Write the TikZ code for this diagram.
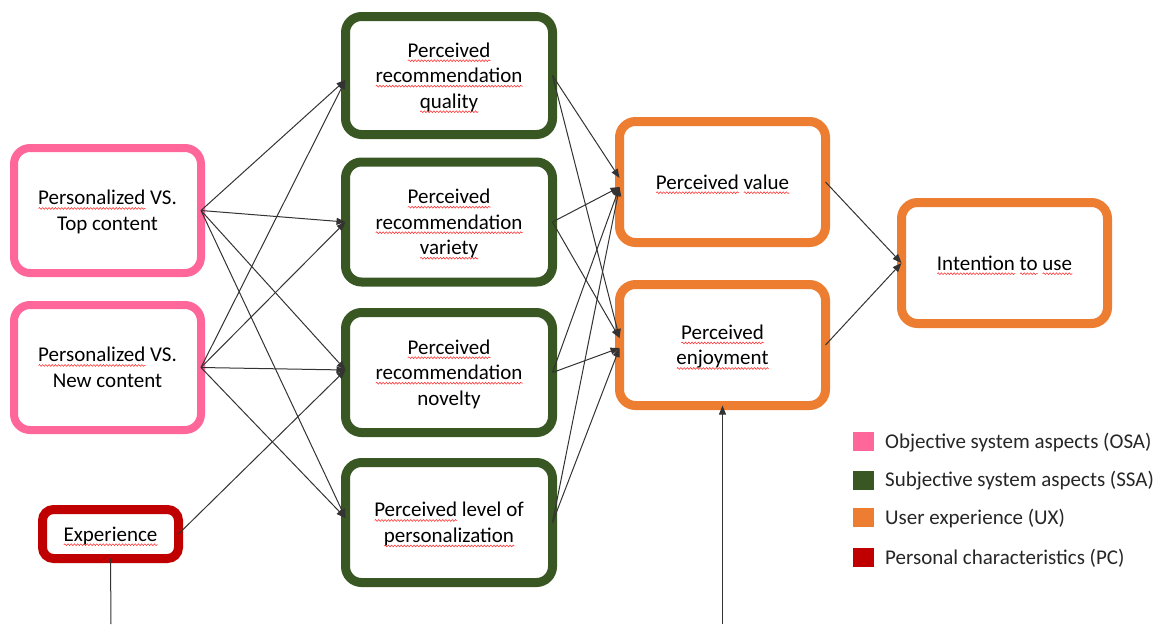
\documentclass[tikz,border=0pt]{standalone}
\usepackage{fontspec}
\setmainfont{Carlito}
\usetikzlibrary{arrows.meta,decorations.pathmorphing}
\definecolor{osa}{HTML}{FF6699}
\definecolor{ssa}{HTML}{385723}
\definecolor{ux}{HTML}{ED7D31}
\definecolor{pc}{HTML}{C00000}
\definecolor{wavered}{HTML}{FF3030}
\newsavebox{\splbox}
\newcommand{\spl}[1]{\sbox{\splbox}{#1}\rlap{\tikz[baseline=0pt]{\draw[wavered, sharp corners, line width=0.55pt, decorate, decoration={snake, amplitude=0.9pt, segment length=3.2pt}] (0pt,-3.6pt) -- (\wd\splbox,-3.6pt);}}\usebox{\splbox}}
\newcommand{\bt}[1]{\raisebox{-2pt}[\height][\depth]{\begin{tabular}{@{}c@{}}#1\end{tabular}}}
\begin{document}
\begin{tikzpicture}[x=1pt,y=1pt,
  box/.style={draw, rounded corners=16pt, fill=white,
    font=\fontsize{21}{25.5}\selectfont, text=black, inner sep=0pt, outer sep=0pt,
    minimum width=206pt, minimum height=121pt},
  osabox/.style={box, draw=osa, line width=8pt, minimum width=187pt, minimum height=125pt},
  ssabox/.style={box, draw=ssa, line width=9pt, minimum width=207pt, minimum height=120pt},
  uxbox/.style={box, draw=ux, line width=9pt},
  pcbox/.style={box, draw=pc, line width=9pt, minimum width=136pt, minimum height=49pt, rounded corners=11pt},
  link/.style={draw=black!80, line width=1pt, -{Triangle[length=9pt,width=7pt]}},
  plainlink/.style={draw=black!80, line width=1pt},
  legsq/.style={minimum width=21pt, minimum height=19pt, inner sep=0pt},
  legtxt/.style={anchor=west, font=\fontsize{21}{25}\selectfont, text=black!85, inner sep=0pt}]

\useasboundingbox (0,0) rectangle (1161,-624);

% nodes
\node[osabox] (top) at (107.5,-210.5) {\bt{\spl{Personalized} VS.\\Top content}};
\node[osabox] (new) at (107.5,-367.5) {\bt{\spl{Personalized} VS.\\New content}};
\node[pcbox] (exp) at (110.5,-534) {\bt{\spl{Experience}}};

\node[ssabox, minimum height=118pt] (qual) at (449,-75.5) {\bt{\spl{Perceived}\\\spl{recommendation}\\\spl{quality}}};
\node[ssabox] (var) at (449,-222) {\bt{\spl{Perceived}\\\spl{recommendation}\\\spl{variety}}};
\node[ssabox] (nov) at (449,-372.5) {\bt{\spl{Perceived}\\\spl{recommendation}\\novelty}};
\node[ssabox] (lev) at (449,-522.5) {\bt{\spl{Perceived} level of\\\spl{personalization}}};

\node[uxbox] (val) at (722.5,-182) {\bt{\spl{Perceived} \spl{value}}};
\node[uxbox] (enj) at (722.5,-345) {\bt{\spl{Perceived}\\\spl{enjoyment}}};
\node[uxbox] (int) at (1004.5,-263) {\bt{\spl{Intention} \spl{to} \spl{use}}};

\coordinate (b1) at (111,-624);
\coordinate (b2) at (722.5,-624);

% connectors: OSA/PC -> SSA
\draw[link] (top.east) -- ([yshift=-4.5pt]qual.west);
\draw[link] (top.east) -- (var.west);
\draw[link] (top.east) -- ([yshift=2.5pt]nov.west);
\draw[link] (top.east) -- ([yshift=4.5pt]lev.west);
\draw[link] (new.east) -- ([yshift=-4.5pt]qual.west);
\draw[link] (new.east) -- (var.west);
\draw[link] (new.east) -- ([yshift=2.5pt]nov.west);
\draw[link] (new.east) -- ([yshift=4.5pt]lev.west);
\draw[link] (exp.east) -- ([yshift=2.5pt]nov.west);

% SSA -> UX
\draw[link] (qual.east) -- ([yshift=4pt]val.west);
\draw[link] (qual.east) -- ([yshift=7pt]enj.west);
\draw[link] (var.east) -- ([yshift=-5pt]val.west);
\draw[link] (var.east) -- ([yshift=7pt]enj.west);
\draw[link] (nov.east) -- ([yshift=-5pt]val.west);
\draw[link] (nov.east) -- ([yshift=-3pt]enj.west);
\draw[link] (lev.east) -- ([yshift=-5pt]val.west);
\draw[link] (lev.east) -- ([yshift=-3pt]enj.west);

% UX -> intention
\draw[link] (val.east) -- (int.west);
\draw[link] (enj.east) -- (int.west);

% bottom lines
\draw[link] (b2) -- (enj.south);
\draw[plainlink] (exp.south) -- (b1);

% legend
\node[legsq, fill=osa] (l1) at (863,-441.5) {};
\node[legtxt] (t1) at (885,-442.5) {Objective system aspects (OSA)};
\node[legsq, fill=ssa] (l2) at (863,-480) {};
\node[legtxt] (t2) at (885,-481) {Subjective system aspects (SSA)};
\node[legsq, fill=ux] (l3) at (863,-517.5) {};
\node[legtxt] (t3) at (885,-518.5) {User experience (UX)};
\node[legsq, fill=pc] (l4) at (863,-557.5) {};
\node[legtxt] (t4) at (885,-558.5) {Personal characteristics (PC)};
\end{tikzpicture}
\end{document}
